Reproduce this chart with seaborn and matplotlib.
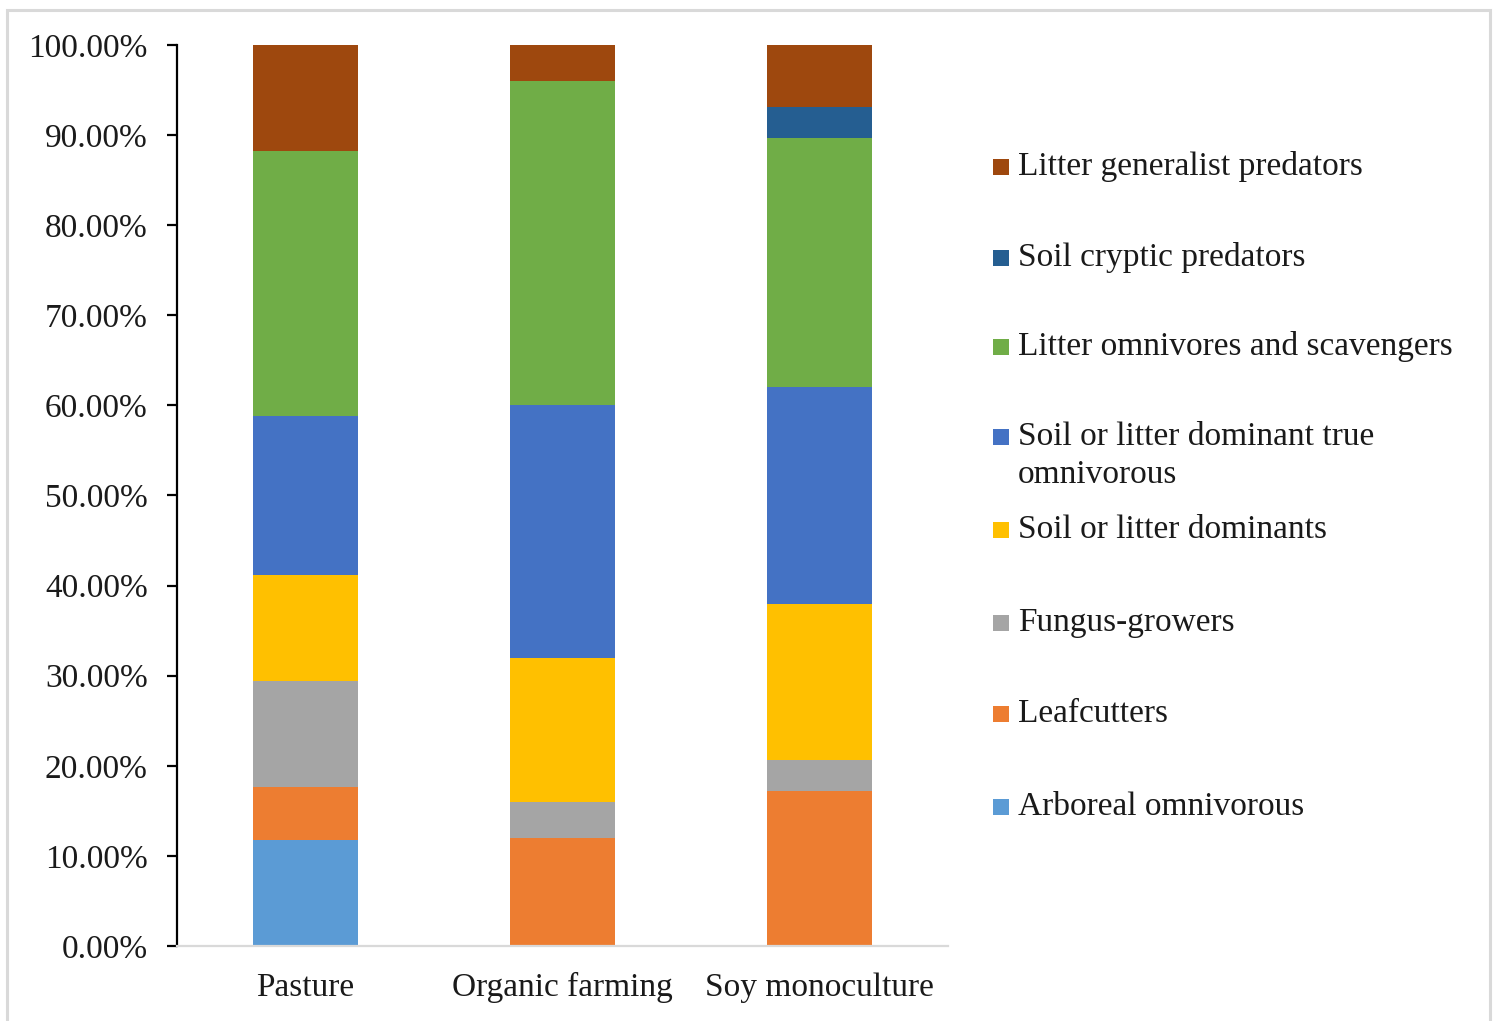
import matplotlib
matplotlib.use("Agg")
import matplotlib.pyplot as plt
from matplotlib.patches import Rectangle
import numpy as np
import pandas as pd
import seaborn as sns

# Land-use systems
systems = ["Pasture", "Organic farming", "Soy monoculture"]

# Functional guilds, bottom of the stack first
guilds = [
    "Arboreal omnivorous",
    "Leafcutters",
    "Fungus-growers",
    "Soil or litter dominants",
    "Soil or litter dominant true\nomnivorous",
    "Litter omnivores and scavengers",
    "Soil cryptic predators",
    "Litter generalist predators",
]

# Share of each guild (%) per system, same order as `guilds`
pasture = [11.76, 5.88, 11.76, 11.76, 17.65, 29.41, 0.00, 11.76]
organic = [0.00, 12.00, 4.00, 16.00, 28.00, 36.00, 0.00, 4.00]
soy = [0.00, 17.24, 3.45, 17.24, 24.14, 27.59, 3.45, 6.90]

colors = ["#5B9BD5", "#ED7D31", "#A5A5A5", "#FFC000",
          "#4472C4", "#70AD47", "#255E91", "#9E480E"]

yticks = [0, 10, 20, 30, 40, 50, 60, 70, 80, 90, 100]

sns.set_theme(style="white")
plt.rcParams["font.family"] = ["Liberation Serif", "DejaVu Serif"]

W, H, DPI = 1497, 1021, 100
fig = plt.figure(figsize=(W / DPI, H / DPI), dpi=DPI)
ax = fig.add_axes([177 / W, 1 - 946 / H, (948 - 177) / W, (946 - 45) / H])

shares = pd.DataFrame({"Pasture": pasture, "Organic farming": organic,
                       "Soy monoculture": soy}, index=guilds)
cumulative = shares.cumsum()

# Draw cumulative totals from the top layer down so each layer covers the rest
for k in range(len(guilds) - 1, -1, -1):
    layer = pd.DataFrame({"system": systems,
                          "value": cumulative.iloc[k][systems].values})
    sns.barplot(data=layer, x="system", y="value", order=systems,
                color=colors[k], saturation=1, width=0.405,
                errorbar=None, linewidth=0, ax=ax)

ax.set_xlim(-0.5, 2.5)
ax.set_ylim(0, 100)
ax.set_yticks(yticks)
ax.set_yticklabels([f"{v:.2f}%" for v in yticks])
ax.set_xlabel("")
ax.set_ylabel("")

for side in ["top", "right"]:
    ax.spines[side].set_visible(False)
ax.spines["left"].set_color("black")
ax.spines["left"].set_linewidth(1.6)
ax.spines["bottom"].set_color("#D9D9D9")
ax.spines["bottom"].set_linewidth(1.6)

ax.tick_params(axis="y", direction="out", length=7, width=1.6, color="black",
               pad=14, labelsize=24, labelcolor="#1a1a1a", left=True)
ax.tick_params(axis="x", length=0, pad=19, labelsize=24, labelcolor="#1a1a1a")

# Legend, top entry first, with the swatch aligned to the first text line
legend_baselines = [175, 266, 355, 445, 538, 631, 722, 815]
line_step = 38
for k, base in zip(range(len(guilds) - 1, -1, -1), legend_baselines):
    fig.patches.append(Rectangle((993 / W, 1 - base / H), 16 / W, 16 / H,
                                 transform=fig.transFigure,
                                 facecolor=colors[k], edgecolor="none"))
    for i, line in enumerate(guilds[k].split("\n")):
        fig.text(1018 / W, 1 - (base + i * line_step) / H, line, fontsize=24,
                 color="#1a1a1a", ha="left", va="baseline")

# Chart frame
fig.patches.append(Rectangle((7 / W, -0.02), (1490 - 7) / W, 1.02 - 10 / H,
                             transform=fig.transFigure, facecolor="none",
                             edgecolor="#D9D9D9", linewidth=2.2))

fig.savefig("out.png", dpi=DPI)
